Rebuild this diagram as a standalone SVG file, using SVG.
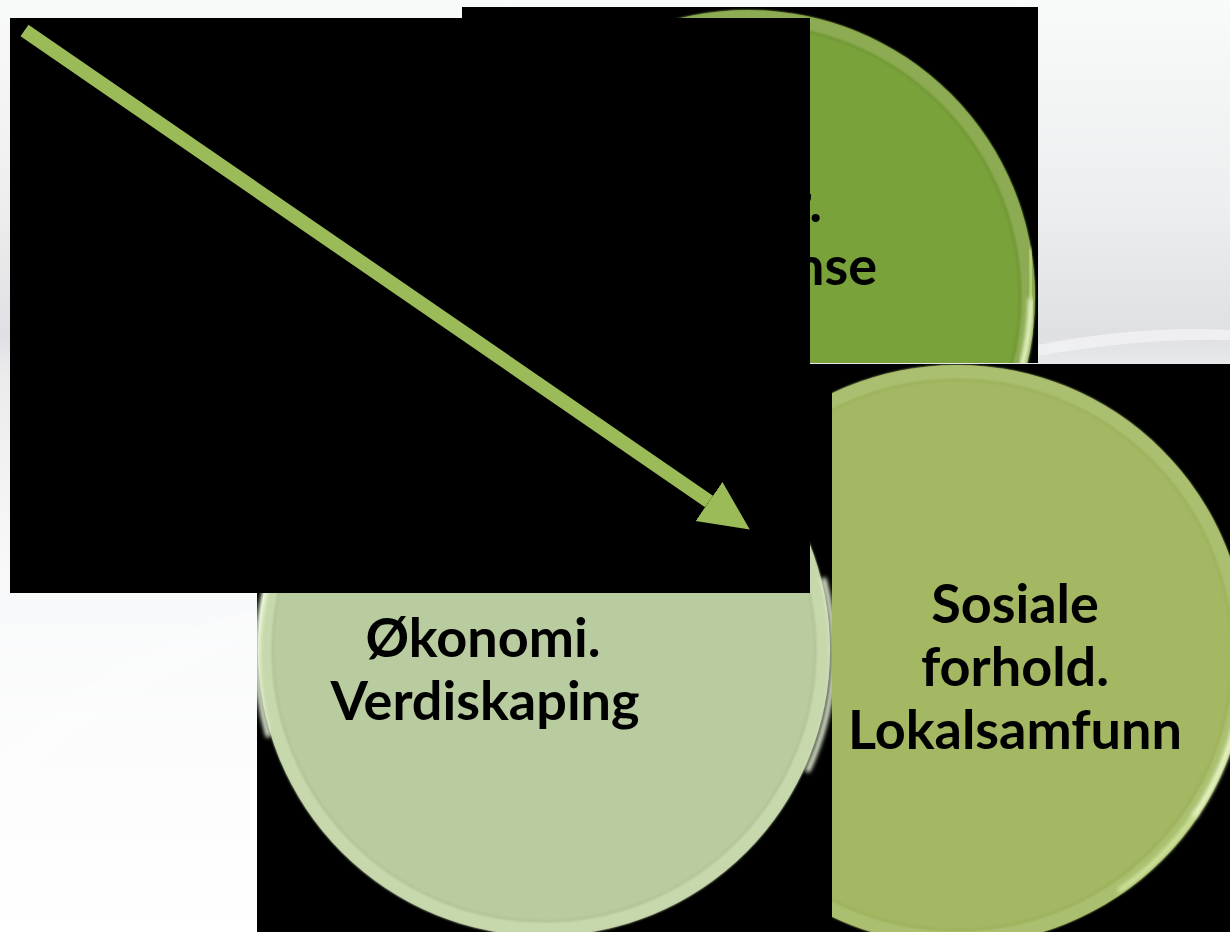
<svg xmlns="http://www.w3.org/2000/svg" width="1230" height="932" viewBox="0 0 1230 932">
  <defs>
    <linearGradient id="bg" x1="0" y1="0" x2="0" y2="1">
      <stop offset="0" stop-color="#F9FAFA"/>
      <stop offset="0.22" stop-color="#ECEEEF"/>
      <stop offset="0.36" stop-color="#DEE0E3"/>
      <stop offset="0.40" stop-color="#E9EBED"/>
      <stop offset="0.62" stop-color="#F8F9FA"/>
      <stop offset="1" stop-color="#FFFFFF"/>
    </linearGradient>
    <filter id="soft" x="-20%" y="-20%" width="140%" height="140%">
      <feGaussianBlur stdDeviation="2"/>
    </filter>
    <filter id="soft1" x="-20%" y="-20%" width="140%" height="140%">
      <feGaussianBlur stdDeviation="1"/>
    </filter>
    <clipPath id="clipTop"><rect x="462" y="7" width="576" height="356"/></clipPath>
    <clipPath id="clipOk"><rect x="257" y="364" width="575" height="568"/></clipPath>
    <clipPath id="clipSo"><rect x="832" y="364" width="398" height="568"/></clipPath>
    <marker id="head" markerUnits="userSpaceOnUse" markerWidth="50" markerHeight="48" viewBox="0 0 50 48" refX="0" refY="23.7" orient="auto">
      <path d="M0,0 L49.5,23.7 L0,47.4 Z" fill="#9BBB59"/>
    </marker>
  </defs>
  <style>
    .panel { fill: #000000; }
    .label { font-family: Lato, "Open Sans", "Liberation Sans", sans-serif; font-weight: bold; font-size: 54px; fill: #000000; }
    .hl { fill: none; stroke-linecap: round; filter: url(#soft); }
    .edge { fill: none; filter: url(#soft1); }
    .conn { fill: none; stroke: #9BBB59; stroke-width: 14; }
  </style>

  <g id="background">
    <rect x="0" y="0" width="1230" height="932" fill="url(#bg)"/>
    <path d="M1038,345 Q1140,325 1230,330 L1230,340 Q1140,338 1038,356 Z" fill="#F2F3F5" opacity="0.8"/>
    <path d="M0,760 Q120,640 257,610 L257,640 Q120,680 0,800 Z" fill="#FFFFFF" opacity="0.25"/>
  </g>

  <g id="node-miljo" clip-path="url(#clipTop)">
    <rect class="panel" x="462" y="7" width="576" height="356"/>
    <circle cx="748" cy="297" r="287" fill="#79A23B"/>
    <circle class="edge" cx="748" cy="297" r="280" stroke="#8DAB52" stroke-width="14"/>
    <circle class="edge" cx="748" cy="297" r="272" stroke="#6E9433" stroke-width="2"/>
    <path class="hl" d="M1031,300 A283,283 0 0,1 1021,370" stroke="#F3FFD6" stroke-width="5"/>
    <path class="hl" d="M1030,250 A283,283 0 0,1 1031,300" stroke="#C9E08F" stroke-width="4"/>
    <text class="label" x="822" y="222" text-anchor="end">r.</text>
    <text class="label" x="877" y="285" text-anchor="end">nse</text>
  </g>

  <g id="node-okonomi" clip-path="url(#clipOk)">
    <rect class="panel" x="257" y="364" width="575" height="568"/>
    <circle cx="544" cy="650" r="286" fill="#B9CCA0"/>
    <circle class="edge" cx="544" cy="650" r="279" stroke="#C6D8AC" stroke-width="14"/>
    <circle class="edge" cx="544" cy="650" r="271" stroke="#AFC394" stroke-width="2"/>
    <path class="hl" d="M265,590 A282,282 0 0,0 268,735" stroke="#F4FFE4" stroke-width="5"/>
    <path class="hl" d="M824,580 A282,282 0 0,1 808,770" stroke="#F4FFE4" stroke-width="5"/>
    <text class="label" x="483" y="657" text-anchor="middle">Økonomi.</text>
    <text class="label" x="485" y="720" text-anchor="middle">Verdiskaping</text>
  </g>

  <g id="node-sosiale" clip-path="url(#clipSo)">
    <rect class="panel" x="832" y="364" width="398" height="568"/>
    <circle cx="957" cy="655" r="290" fill="#A4B763"/>
    <circle class="edge" cx="957" cy="655" r="283" stroke="#AAC06F" stroke-width="14"/>
    <circle class="edge" cx="957" cy="655" r="275" stroke="#9CB05A" stroke-width="2"/>
    <path class="hl" d="M1242,690 A286,286 0 0,1 1195,815" stroke="#F2FFD4" stroke-width="5"/>
    <path class="hl" d="M1195,815 A286,286 0 0,1 1120,890" stroke="#D8EDA8" stroke-width="4"/>
    <text class="label" x="1015" y="623" text-anchor="middle">Sosiale</text>
    <text class="label" x="1015" y="686" text-anchor="middle">forhold.</text>
    <text class="label" x="1015" y="749" text-anchor="middle">Lokalsamfunn</text>
  </g>

  <g id="node-cover">
    <rect class="panel" x="10" y="18" width="800" height="575"/>
  </g>

  <g id="connectors">
    <line class="conn" x1="24.5" y1="30.5" x2="709" y2="501.5" marker-end="url(#head)"/>
  </g>
</svg>
